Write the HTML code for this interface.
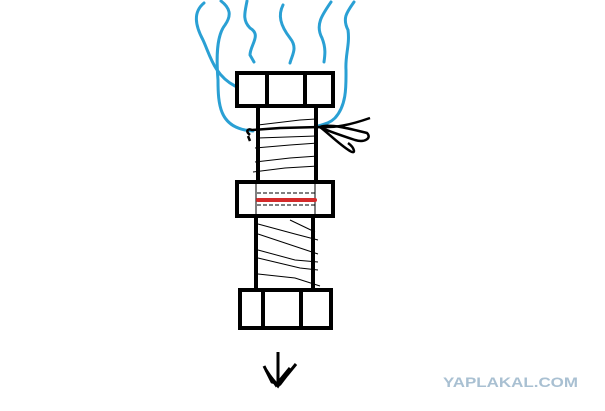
<!DOCTYPE html>
<html><head><style>body{margin:0;background:#fff}svg{display:block}</style></head><body>
<svg width="605" height="411" viewBox="0 0 605 411" xmlns="http://www.w3.org/2000/svg">
<g fill="none" stroke="#2aa0d4" stroke-width="3" stroke-linecap="round">
<path d="M204,3 C193,12 195,25 203,40 C210,55 214,75 235,86"/>
<path d="M221,1 C230,8 232,15 225,25 C217,35 216,55 218,80 C218,105 220,125 245,130 L253,131"/>
<path d="M247,1 C245,12 242,20 250,28 C262,35 250,45 250,55 L254,62"/>
<path d="M283,5 C278,15 280,25 290,38 C298,48 292,55 290,63"/>
<path d="M331,2 C322,15 315,25 322,38 C326,48 325,55 324,62"/>
<path d="M354,2 C347,12 342,18 348,30 C350,45 345,55 346,70 C346,85 347,105 335,118 C330,123 325,124 318,126"/>
</g>
<g fill="none" stroke="#000" stroke-width="4">
<rect x="237" y="73" width="96" height="33"/>
<line x1="267" y1="73" x2="267" y2="106"/><line x1="305" y1="73" x2="305" y2="106"/>
<line x1="258" y1="106" x2="258" y2="182"/><line x1="316" y1="106" x2="316" y2="182"/>
<rect x="237" y="182" width="96" height="34"/>
<line x1="256" y1="216" x2="256" y2="289"/><line x1="313" y1="216" x2="313" y2="289"/>
<rect x="240" y="290" width="91" height="38"/>
<line x1="263" y1="290" x2="263" y2="328"/><line x1="301" y1="290" x2="301" y2="328"/>
</g>
<g fill="none" stroke="#000" stroke-width="1">
<line x1="256" y1="184" x2="256" y2="216"/><line x1="315" y1="184" x2="315" y2="216"/>
<line x1="257" y1="193" x2="316" y2="193" stroke-dasharray="4,2"/>
<line x1="257" y1="205" x2="316" y2="205" stroke-dasharray="4,2"/>
<path d="M258,125 L300,120 L316,119"/><path d="M255,148 L290,145 L318,143"/>
<path d="M255,162 L290,158 L318,156"/><path d="M253,172 L285,168 L318,166"/>
<path d="M258,138 L316,136"/>
<path d="M290,220 L315,232"/><path d="M258,224 L295,234 L318,240"/>
<path d="M258,234 L300,248 L318,254"/><path d="M258,250 L295,260 L318,262"/>
<path d="M258,258 L300,268 L318,270"/><path d="M258,274 L295,278 L320,286"/>
</g>
<path d="M258,200 L315,200" stroke="#d42a2a" stroke-width="4" stroke-linecap="round"/>
<g fill="none" stroke="#000" stroke-width="2.5">
<path d="M250,135 C245,131 248,128 252,130 L280,128 L320,127 C335,128 350,125 370,118"/>
<path d="M320,127 C330,123 355,130 367,133 C372,138 365,143 355,140 C340,135 325,130 320,127"/>
<path d="M320,127 C328,133 340,145 350,151 C356,155 355,148 348,143"/>
<path d="M248,136 L250,141"/>
</g>
<g stroke="#000" stroke-width="3" fill="none">
<line x1="278" y1="352" x2="278" y2="385"/>
<path d="M264,366 L272,382 L280,384 L287,375 L296,364"/>
<path d="M266,370 L276,385 L290,368"/>
<path d="M270,376 L278,386 L286,374"/>
</g>
<text x="443" y="387" font-family="Liberation Sans, sans-serif" font-weight="bold" font-size="14" fill="#a9c0d2" textLength="135" lengthAdjust="spacingAndGlyphs">YAPLAKAL.COM</text>
</svg>
</body></html>
